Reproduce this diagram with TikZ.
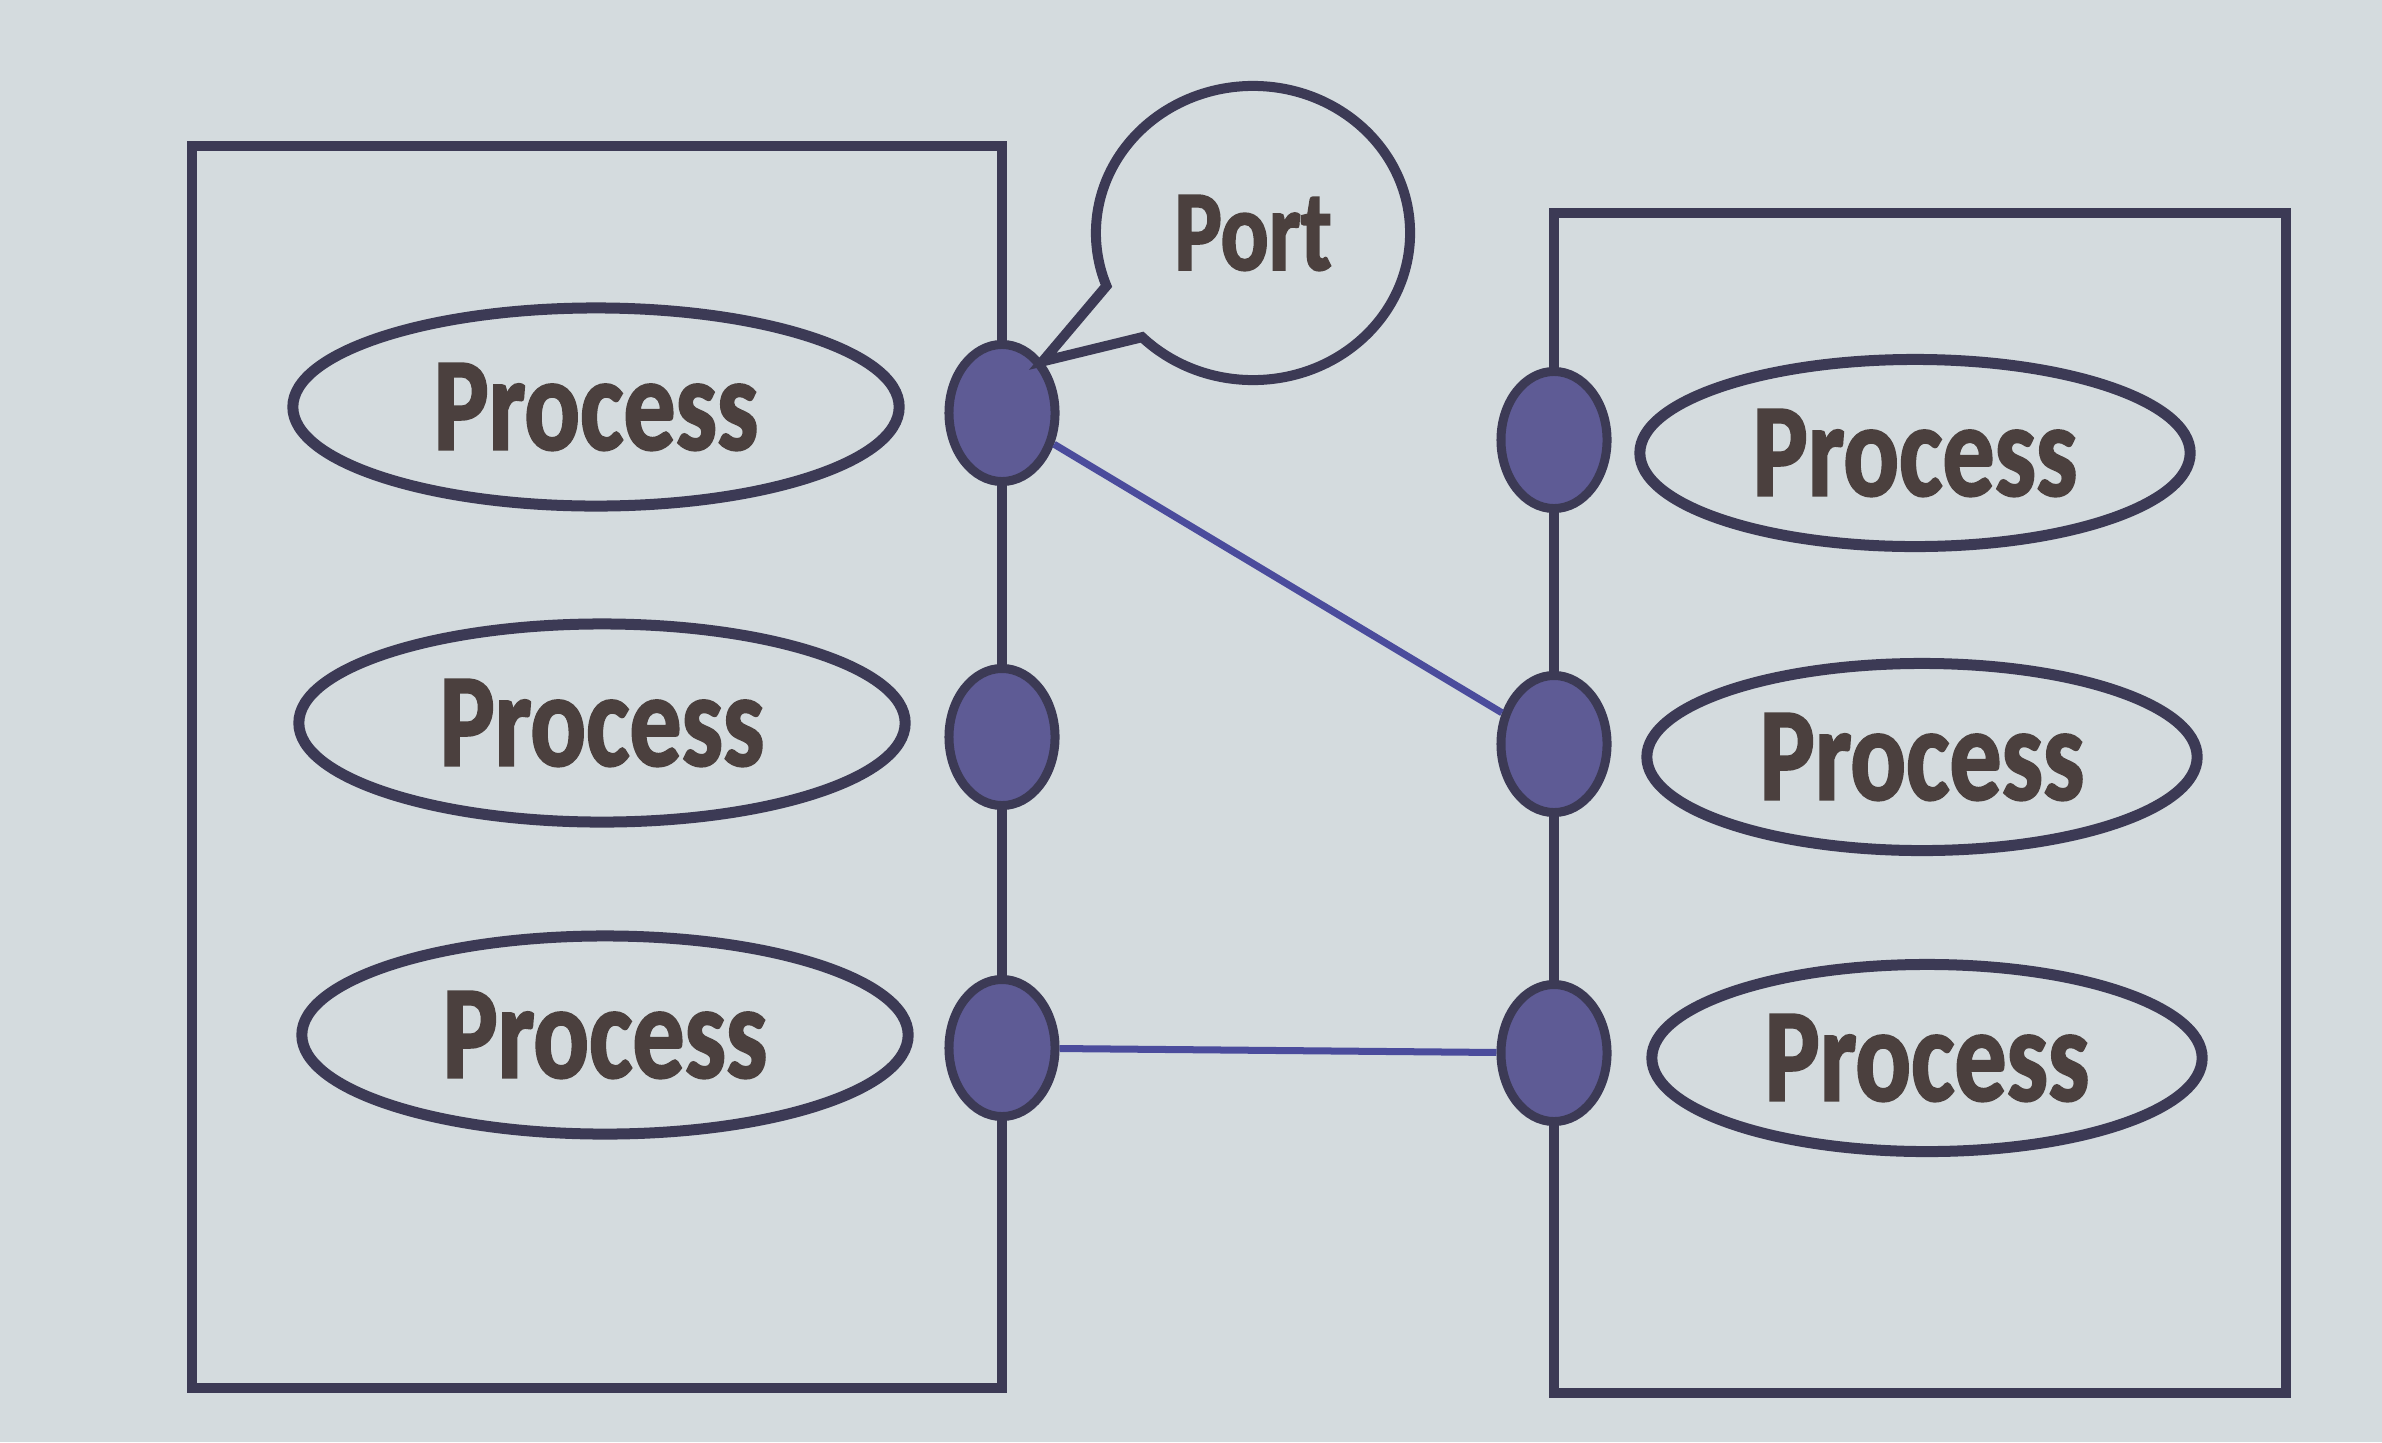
\documentclass[tikz,border=0pt]{standalone}
\usepackage{fontspec}
\usepackage{xcolor}
\usepackage{tikz}
\usetikzlibrary{shapes.geometric,shapes.callouts}
\newfontfamily\labelfont[FakeStretch=0.78, BoldFeatures={FakeBold=1.6}]{Carlito}
\definecolor{backdrop}{HTML}{D4DBDE}
\definecolor{edge}{HTML}{3C3A55}
\definecolor{portfill}{HTML}{5E5B95}
\definecolor{linkblue}{HTML}{4B4C9C}
\definecolor{labeltext}{HTML}{4B403E}

\begin{document}
\begin{tikzpicture}[x=0.01cm, y=-0.01cm,
  frame/.style={draw=edge, line width=0.1cm, rectangle, inner sep=0pt},
  proc/.style={ellipse, draw=edge, line width=0.11cm, inner sep=0pt,
    text=labeltext, font=\labelfont\bfseries\fontsize{37.8}{40}\selectfont},
  portdot/.style={ellipse, draw=edge, fill=portfill, line width=0.09cm,
    minimum width=1.06cm, minimum height=1.37cm, inner sep=0pt},
  link/.style={draw=linkblue, line width=0.07cm}]
  \fill[backdrop] (0,0) rectangle (2382,1442);
  \useasboundingbox (0,0) rectangle (2382,1442);

  % the two nodes
  \node[frame, minimum width=8.10cm, minimum height=12.42cm] (hostL) at (597,767) {};
  \node[frame, minimum width=7.31cm, minimum height=11.80cm] (hostR) at (1920,803) {};

  % processes
  \node[proc, minimum width=6.06cm, minimum height=1.98cm] (procL1) at (596,407) {Process};
  \node[proc, minimum width=6.06cm, minimum height=1.98cm] (procL2) at (602,723) {Process};
  \node[proc, minimum width=6.06cm, minimum height=1.98cm] (procL3) at (605,1035) {Process};
  \node[proc, minimum width=5.50cm, minimum height=1.87cm] (procR1) at (1915,453) {Process};
  \node[proc, minimum width=5.50cm, minimum height=1.87cm] (procR2) at (1922,757) {Process};
  \node[proc, minimum width=5.50cm, minimum height=1.87cm] (procR3) at (1927,1058) {Process};

  % ports
  \node[portdot] (pL1) at (1002,413) {};
  \node[portdot] (pL2) at (1002,737) {};
  \node[portdot] (pL3) at (1002,1048) {};
  \node[portdot] (pR1) at (1554,440) {};
  \node[portdot] (pR2) at (1554,744) {};
  \node[portdot] (pR3) at (1554,1053) {};

  \draw[link] (pL1) -- (pR2);
  \draw[link] (pL3) -- (pR3);

  \node[ellipse callout, draw=edge, line width=0.1cm, inner sep=0pt,
    minimum width=3.14cm, minimum height=2.94cm,
    callout absolute pointer={(pL1.north east)}, callout pointer arc=24,
    text=labeltext, font=\labelfont\bfseries\fontsize{32.7}{35}\selectfont]
    (portnote) at (1253,233) {Port};
\end{tikzpicture}
\end{document}
